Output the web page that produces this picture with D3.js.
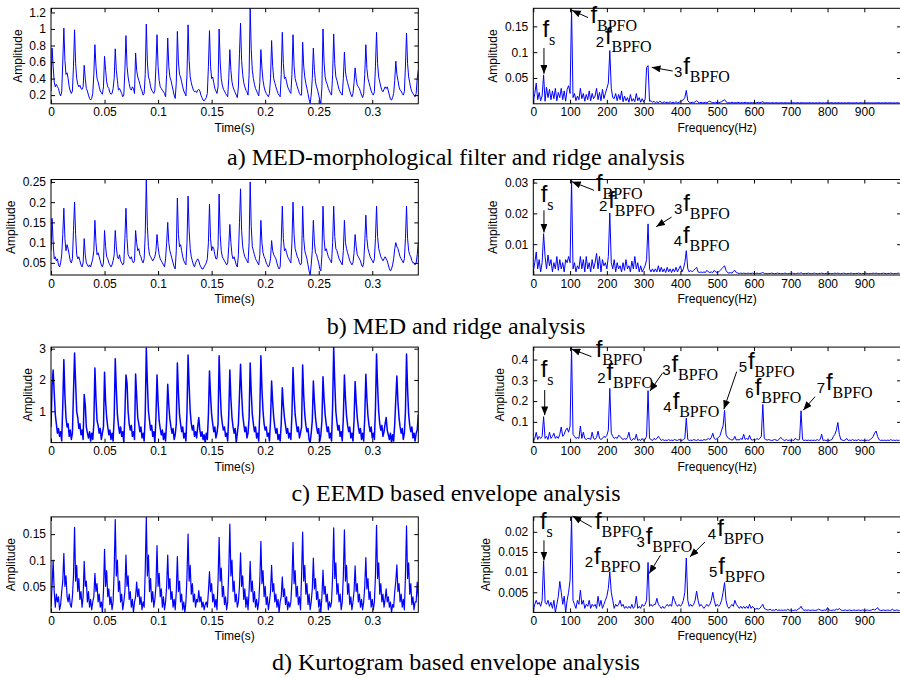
<!DOCTYPE html>
<html><head><meta charset="utf-8">
<script src="https://cdn.jsdelivr.net/npm/d3@7"></script>
<style>body{margin:0;background:#fff}svg{display:block}</style>
</head><body><svg id="c" width="900" height="678"></svg>
<script>
// ---------------- DATA ----------------
const timeStep = 0.001;   // s per sample
const freqStep = 4;       // Hz per sample

const sigA = [0.25,0.77,0.55,0.36,0.30,0.33,0.30,0.28,0.22,0.19,
0.24,0.60,1.01,0.62,0.45,0.47,0.40,0.30,0.25,0.22,
0.25,0.55,0.99,0.58,0.40,0.33,0.30,0.32,0.28,0.27,
0.30,0.56,0.40,0.28,0.25,0.20,0.16,0.14,0.16,0.22,
0.45,0.81,0.55,0.40,0.36,0.30,0.25,0.23,0.21,0.30,
0.67,0.50,0.36,0.30,0.28,0.23,0.21,0.22,0.28,0.40,
0.76,0.50,0.38,0.26,0.28,0.25,0.22,0.18,0.20,0.50,
0.92,0.55,0.42,0.34,0.28,0.26,0.30,0.28,0.22,0.71,
0.50,0.42,0.38,0.33,0.28,0.25,0.20,0.22,0.45,1.06,
0.60,0.42,0.38,0.30,0.26,0.24,0.22,0.26,0.55,0.93,
0.55,0.38,0.30,0.28,0.26,0.24,0.22,0.18,0.45,0.89,
0.55,0.42,0.38,0.32,0.26,0.20,0.16,0.35,0.97,0.60,
0.45,0.42,0.36,0.30,0.25,0.22,0.19,0.45,1.05,0.62,
0.42,0.35,0.30,0.26,0.24,0.25,0.23,0.26,0.27,0.25,
0.20,0.17,0.14,0.13,0.15,0.17,0.22,0.55,0.98,0.55,
0.40,0.42,0.35,0.28,0.25,0.22,0.30,1.00,0.60,0.40,
0.32,0.27,0.25,0.22,0.20,0.18,0.40,0.75,0.50,0.36,
0.30,0.26,0.23,0.20,0.17,0.30,0.70,1.07,0.62,0.45,
0.35,0.30,0.26,0.24,0.20,0.45,1.25,0.75,0.50,0.40,
0.33,0.28,0.25,0.22,0.19,0.35,0.75,0.52,0.38,0.30,
0.25,0.22,0.20,0.18,0.22,0.40,0.86,0.55,0.40,0.35,
0.30,0.26,0.22,0.20,0.18,0.45,0.96,0.58,0.40,0.42,
0.36,0.30,0.27,0.24,0.22,0.45,0.93,0.55,0.40,0.35,
0.30,0.26,0.22,0.20,0.20,0.84,0.55,0.42,0.34,0.28,
0.22,0.15,0.10,0.20,0.40,0.77,0.50,0.36,0.30,0.26,
0.20,0.14,0.10,0.30,1.00,0.60,0.42,0.36,0.33,0.28,
0.25,0.22,0.20,0.45,0.94,0.58,0.42,0.38,0.32,0.27,
0.24,0.22,0.20,0.40,0.72,0.48,0.40,0.35,0.30,0.25,
0.21,0.18,0.22,0.35,0.53,0.40,0.32,0.30,0.28,0.24,
0.20,0.17,0.22,0.45,0.81,0.52,0.40,0.35,0.30,0.25,
0.22,0.20,0.24,0.55,0.96,0.58,0.42,0.36,0.30,0.26,
0.24,0.27,0.30,0.28,0.30,0.25,0.20,0.15,0.14,0.17,
0.22,0.38,0.61,0.45,0.38,0.30,0.26,0.25,0.22,0.20,
0.24,0.55,0.95,0.58,0.42,0.35,0.28,0.24,0.22,0.20,
0.18,0.22,0.40,0.50];

const sigB = [0.08,0.16,0.10,0.06,0.065,0.055,0.06,0.045,0.04,0.05,
0.07,0.12,0.185,0.11,0.08,0.095,0.085,0.07,0.055,0.05,
0.06,0.13,0.20,0.12,0.07,0.06,0.065,0.055,0.045,0.04,
0.05,0.11,0.07,0.05,0.045,0.04,0.045,0.04,0.05,0.06,
0.08,0.155,0.10,0.07,0.075,0.065,0.055,0.045,0.04,0.05,
0.13,0.09,0.065,0.06,0.05,0.045,0.04,0.045,0.055,0.07,
0.13,0.09,0.065,0.06,0.07,0.055,0.05,0.045,0.05,0.11,
0.185,0.11,0.07,0.065,0.06,0.065,0.055,0.05,0.055,0.13,
0.10,0.08,0.085,0.07,0.065,0.055,0.05,0.06,0.12,0.255,
0.14,0.09,0.07,0.065,0.06,0.055,0.06,0.065,0.08,0.12,
0.09,0.07,0.06,0.055,0.05,0.045,0.04,0.06,0.10,0.15,
0.10,0.08,0.07,0.06,0.05,0.04,0.035,0.08,0.21,0.12,
0.09,0.095,0.08,0.065,0.055,0.05,0.045,0.10,0.215,0.13,
0.085,0.065,0.055,0.045,0.04,0.05,0.055,0.06,0.055,0.045,
0.04,0.035,0.035,0.04,0.045,0.05,0.06,0.10,0.195,0.11,
0.08,0.09,0.085,0.07,0.06,0.06,0.09,0.22,0.12,0.08,
0.065,0.06,0.055,0.05,0.045,0.05,0.09,0.145,0.10,0.07,
0.06,0.065,0.055,0.045,0.04,0.07,0.15,0.233,0.13,0.09,
0.075,0.065,0.06,0.055,0.05,0.10,0.25,0.14,0.09,0.08,
0.07,0.06,0.055,0.05,0.045,0.07,0.155,0.10,0.075,0.065,
0.06,0.05,0.045,0.04,0.045,0.06,0.105,0.08,0.07,0.065,
0.06,0.05,0.04,0.035,0.04,0.10,0.19,0.11,0.08,0.085,
0.075,0.065,0.06,0.055,0.05,0.10,0.20,0.12,0.085,0.075,
0.065,0.06,0.05,0.045,0.05,0.19,0.11,0.08,0.07,0.06,
0.045,0.03,0.02,0.045,0.08,0.155,0.10,0.075,0.07,0.06,
0.05,0.035,0.03,0.07,0.19,0.11,0.08,0.085,0.075,0.065,
0.06,0.055,0.05,0.10,0.19,0.115,0.085,0.08,0.07,0.06,
0.055,0.05,0.045,0.08,0.155,0.10,0.085,0.075,0.065,0.055,
0.05,0.045,0.05,0.075,0.12,0.09,0.07,0.065,0.06,0.055,
0.045,0.04,0.05,0.10,0.168,0.11,0.085,0.075,0.065,0.06,
0.055,0.05,0.06,0.11,0.19,0.115,0.085,0.075,0.065,0.06,
0.055,0.06,0.065,0.06,0.055,0.045,0.035,0.03,0.035,0.045,
0.06,0.085,0.10,0.09,0.085,0.075,0.065,0.06,0.055,0.05,
0.06,0.11,0.19,0.11,0.08,0.07,0.065,0.055,0.05,0.05,
0.045,0.05,0.07,0.10];

const sigC = [0.5,1.8,2.32,1.6,0.9,0.6,0.3,0.45,0.2,0.35,
0.05,1.2,2.65,1.5,0.8,0.5,0.6,0.2,0.4,0.1,
0.3,1.6,2.86,1.9,1.0,0.8,0.45,0.6,0.25,0.4,
0.1,1.54,1.2,0.5,0.3,0.15,0.35,0.05,0.3,0.1,
0.6,2.38,1.4,0.7,0.55,0.3,0.45,0.1,0.3,0.5,
2.25,1.3,0.8,0.5,0.25,0.4,0.1,0.3,0.05,0.8,
2.68,1.7,0.9,0.55,0.3,0.5,0.2,0.35,0.0,0.9,
2.16,1.9,1.0,0.6,0.4,0.55,0.2,0.35,0.1,2.19,
1.5,0.8,0.6,0.35,0.5,0.15,0.3,0.05,0.9,3.02,
1.9,1.0,0.7,0.4,0.55,0.2,0.35,0.0,0.8,2.16,
1.3,0.7,0.45,0.25,0.4,0.1,0.3,0.05,0.7,1.86,
1.2,0.75,0.5,0.3,0.45,0.1,0.25,0.6,2.54,1.6,
0.9,0.6,0.35,0.5,0.15,0.3,0.05,1.0,2.8,1.8,
1.0,0.6,0.4,0.55,0.2,0.35,0.15,0.5,0.8,0.4,
0.2,0.35,0.1,0.25,0.0,0.3,0.1,0.9,2.29,1.5,
0.9,0.6,0.35,0.5,0.15,0.3,0.6,2.77,1.7,0.9,
0.6,0.4,0.5,0.2,0.3,0.05,0.9,2.32,1.4,0.8,
0.5,0.3,0.45,0.0,0.3,0.6,1.5,2.5,1.6,0.9,
0.6,0.35,0.5,0.15,0.3,0.8,2.54,1.6,0.9,0.6,
0.35,0.5,0.15,0.3,0.05,1.0,2.77,1.7,1.0,0.6,
0.4,0.5,0.2,0.3,0.05,0.7,1.97,1.3,0.8,0.5,
0.3,0.45,0.1,0.25,0.05,0.6,1.75,1.2,0.8,0.55,
0.3,0.45,0.15,0.3,0.1,0.9,2.4,1.5,0.9,0.6,
0.35,0.5,0.15,0.3,0.5,2.48,1.5,0.9,0.55,0.35,
0.45,0.1,0.0,0.3,0.7,1.97,1.3,0.8,0.5,0.3,
0.45,0.05,0.25,0.7,2.1,1.4,0.9,0.6,0.35,0.5,
0.15,0.3,0.05,1.2,3.05,1.9,1.0,0.65,0.4,0.55,
0.2,0.35,0.05,0.8,2.16,1.4,0.85,0.55,0.35,0.5,
0.15,0.3,0.05,0.7,1.95,1.3,0.8,0.5,0.3,0.45,
0.1,0.3,0.05,0.8,2.18,1.4,0.85,0.55,0.35,0.5,
0.15,0.3,0.1,1.1,2.83,1.8,1.0,0.6,0.4,0.55,
0.2,0.35,0.6,0.8,0.4,0.25,0.1,0.3,0.0,0.25,
0.05,0.6,1.4,2.13,1.3,0.8,0.5,0.3,0.45,0.1,
0.3,1.0,2.83,1.7,0.9,0.55,0.35,0.5,0.15,0.3,
0.05,0.3,0.4,0.9];

const sigD = [0.01,0.05,0.10,0.04,0.01,0.035,0.02,0.03,0.005,0.015,
0.04,0.06,0.113,0.05,0.07,0.03,0.02,0.035,0.015,0.01,
0.03,0.07,0.163,0.06,0.09,0.04,0.065,0.025,0.04,0.01,
0.03,0.098,0.05,0.06,0.02,0.04,0.01,0.025,0.005,0.02,
0.03,0.075,0.04,0.055,0.02,0.035,0.01,0.02,0.0,0.04,
0.121,0.05,0.08,0.03,0.045,0.015,0.03,0.005,0.02,0.08,
0.178,0.07,0.10,0.04,0.06,0.02,0.035,0.005,0.02,0.04,
0.11,0.05,0.07,0.025,0.04,0.01,0.025,0.0,0.02,0.03,
0.058,0.03,0.045,0.015,0.03,0.005,0.02,0.01,0.08,0.183,
0.07,0.11,0.04,0.065,0.02,0.04,0.01,0.025,0.05,0.128,
0.05,0.075,0.03,0.045,0.01,0.03,0.005,0.02,0.05,0.11,
0.045,0.065,0.025,0.04,0.01,0.025,0.005,0.04,0.107,0.04,
0.06,0.02,0.035,0.005,0.02,0.0,0.02,0.07,0.15,0.06,
0.09,0.035,0.055,0.02,0.035,0.01,0.025,0.02,0.042,0.02,
0.03,0.01,0.02,0.005,0.015,0.02,0.01,0.04,0.078,0.04,
0.055,0.02,0.035,0.01,0.025,0.005,0.06,0.144,0.06,0.085,
0.03,0.05,0.015,0.03,0.005,0.02,0.08,0.169,0.07,0.10,
0.04,0.06,0.02,0.035,0.01,0.02,0.05,0.114,0.05,0.07,
0.025,0.045,0.01,0.03,0.005,0.04,0.098,0.04,0.06,0.02,
0.04,0.01,0.025,0.005,0.02,0.06,0.136,0.055,0.08,0.03,
0.05,0.015,0.03,0.005,0.02,0.04,0.09,0.04,0.055,0.02,
0.035,0.01,0.025,0.0,0.02,0.03,0.068,0.03,0.045,0.015,
0.03,0.005,0.02,0.01,0.02,0.06,0.134,0.055,0.08,0.03,
0.05,0.015,0.03,0.005,0.07,0.154,0.06,0.09,0.035,0.055,
0.015,0.035,0.005,0.02,0.045,0.104,0.045,0.065,0.025,0.04,
0.01,0.025,0.0,0.03,0.081,0.035,0.05,0.02,0.035,0.005,
0.02,0.01,0.02,0.07,0.162,0.065,0.095,0.035,0.055,0.02,
0.035,0.005,0.02,0.07,0.158,0.06,0.09,0.035,0.055,0.015,
0.03,0.005,0.02,0.04,0.089,0.04,0.055,0.02,0.035,0.01,
0.025,0.005,0.02,0.05,0.105,0.045,0.065,0.025,0.04,0.01,
0.025,0.005,0.02,0.07,0.167,0.065,0.095,0.035,0.055,0.02,
0.035,0.01,0.025,0.045,0.02,0.03,0.01,0.02,0.0,0.015,
0.01,0.04,0.06,0.091,0.04,0.055,0.02,0.035,0.01,0.025,
0.005,0.07,0.166,0.065,0.095,0.035,0.055,0.015,0.03,0.005,
0.02,0.02,0.058,0.03];

const specA = [0.003,0.02,0.04,0.008,0.022,0.006,0.015,0.056,0.005,0.032,
0.012,0.028,0.008,0.025,0.01,0.03,0.006,0.022,0.012,0.03,
0.008,0.025,0.005,0.028,0.035,0.02,0.185,0.012,0.02,0.006,
0.015,0.008,0.03,0.01,0.02,0.005,0.018,0.008,0.025,0.006,
0.02,0.01,0.015,0.03,0.008,0.022,0.006,0.028,0.01,0.02,
0.03,0.04,0.103,0.03,0.012,0.01,0.02,0.006,0.018,0.008,
0.025,0.004,0.015,0.006,0.012,0.003,0.018,0.005,0.01,0.004,
0.02,0.006,0.012,0.003,0.01,0.004,0.008,0.07,0.074,0.005,
0.006,0.003,0.005,0.002,0.004,0.002,0.005,0.003,0.002,0.004,
0.002,0.003,0.002,0.004,0.002,0.003,0.002,0.004,0.002,0.003,
0.004,0.006,0.008,0.012,0.026,0.006,0.003,0.002,0.003,0.002,
0.004,0.006,0.003,0.002,0.003,0.002,0.002,0.003,0.002,0.004,
0.005,0.003,0.002,0.002,0.003,0.002,0.002,0.003,0.004,0.006,
0.008,0.004,0.002,0.002,0.002,0.003,0.002,0.002,0.002,0.003,
0.002,0.002,0.002,0.002,0.003,0.002,0.002,0.002,0.002,0.002,
0.002,0.002,0.002,0.003,0.002,0.003,0.004,0.002,0.002,0.002,
0.002,0.0015,0.002,0.002,0.0015,0.002,0.002,0.0015,0.002,0.002,
0.0015,0.002,0.002,0.0015,0.002,0.0015,0.002,0.002,0.0015,0.002,
0.002,0.0015,0.002,0.002,0.0015,0.002,0.0015,0.002,0.002,0.0015,
0.002,0.0015,0.002,0.0015,0.002,0.002,0.0015,0.002,0.0015,0.002,
0.002,0.0015,0.002,0.002,0.0015,0.002,0.0015,0.002,0.002,0.0015,
0.002,0.0015,0.002,0.0015,0.002,0.002,0.0015,0.002,0.0015,0.002,
0.002,0.0015,0.002,0.002,0.0015,0.002,0.0015,0.002,0.002,0.0015,
0.002,0.0015,0.002,0.0015,0.002,0.002,0.0015,0.002,0.0015,0.002,
0.002,0.0015,0.002,0.002,0.0015,0.002,0.0015,0.002,0.002,0.0015];

const specB = [0.001,0.004,0.0075,0.002,0.005,0.001,0.004,0.0134,0.006,0.002,
0.0065,0.003,0.005,0.001,0.004,0.002,0.006,0.0015,0.005,0.002,
0.004,0.001,0.005,0.004,0.006,0.004,0.031,0.002,0.004,0.001,
0.003,0.002,0.006,0.002,0.005,0.001,0.006,0.002,0.004,0.001,
0.005,0.002,0.004,0.007,0.002,0.006,0.001,0.005,0.003,0.004,
0.002,0.006,0.0201,0.004,0.002,0.005,0.001,0.004,0.002,0.003,
0.001,0.004,0.0015,0.005,0.002,0.003,0.001,0.0045,0.002,0.006,
0.002,0.004,0.001,0.003,0.001,0.002,0.003,0.005,0.0166,0.002,
0.001,0.002,0.001,0.002,0.001,0.003,0.001,0.0025,0.001,0.002,
0.0008,0.0025,0.001,0.002,0.0008,0.002,0.001,0.0025,0.001,0.002,
0.003,0.001,0.002,0.004,0.0079,0.002,0.001,0.0015,0.001,0.0015,
0.002,0.0025,0.001,0.0008,0.001,0.0008,0.001,0.0008,0.0015,0.001,
0.0008,0.001,0.0008,0.0015,0.001,0.0008,0.001,0.0015,0.002,0.0025,
0.003,0.0015,0.0008,0.0006,0.0008,0.0006,0.0012,0.0015,0.0008,0.0006,
0.0005,0.0006,0.0005,0.0006,0.0005,0.0005,0.0006,0.0005,0.0005,0.0006,
0.0005,0.0005,0.0006,0.0005,0.0005,0.0006,0.0008,0.0005,0.0005,0.0004,
0.0005,0.0005,0.0006,0.0005,0.0004,0.0005,0.0006,0.0005,0.0005,0.0004,
0.0005,0.0006,0.0005,0.0004,0.0005,0.0005,0.0006,0.0005,0.0004,0.0005,
0.0006,0.0005,0.0007,0.0005,0.0004,0.0005,0.0005,0.0006,0.0005,0.0004,
0.0005,0.0006,0.0005,0.0004,0.0005,0.0005,0.0006,0.0005,0.0004,0.0005,
0.0006,0.0005,0.0005,0.0004,0.0005,0.0006,0.0005,0.0006,0.0005,0.0004,
0.0005,0.0006,0.0005,0.0004,0.0005,0.0005,0.0006,0.0005,0.0004,0.0005,
0.0005,0.0006,0.0005,0.0004,0.0005,0.0005,0.0006,0.0005,0.0004,0.0005,
0.0005,0.0006,0.0005,0.0006,0.0005,0.0004,0.0005,0.0005,0.0006,0.0005,
0.0004,0.0005,0.0005,0.0006,0.0005,0.0004,0.0005,0.0005,0.0006,0.0005];

const specC = [0.01,0.02,0.05,0.015,0.03,0.02,0.03,0.125,0.02,0.03,
0.015,0.05,0.02,0.03,0.045,0.02,0.03,0.02,0.04,0.075,
0.03,0.04,0.06,0.07,0.05,0.08,0.46,0.04,0.03,0.02,
0.025,0.02,0.08,0.02,0.05,0.02,0.015,0.02,0.02,0.015,
0.05,0.02,0.015,0.025,0.055,0.02,0.015,0.02,0.03,0.025,
0.035,0.06,0.261,0.045,0.03,0.02,0.025,0.02,0.035,0.03,
0.02,0.015,0.02,0.015,0.025,0.05,0.015,0.01,0.02,0.015,
0.04,0.01,0.015,0.01,0.02,0.01,0.015,0.03,0.25,0.02,
0.015,0.01,0.02,0.015,0.02,0.03,0.02,0.01,0.015,0.01,
0.012,0.01,0.015,0.01,0.012,0.01,0.015,0.012,0.01,0.015,
0.012,0.01,0.015,0.02,0.118,0.015,0.01,0.012,0.01,0.015,
0.012,0.01,0.015,0.01,0.012,0.01,0.015,0.012,0.015,0.02,
0.015,0.025,0.045,0.02,0.015,0.02,0.025,0.035,0.06,0.08,
0.155,0.04,0.025,0.02,0.015,0.012,0.015,0.03,0.012,0.015,
0.012,0.02,0.015,0.04,0.015,0.02,0.015,0.035,0.015,0.012,
0.015,0.012,0.02,0.015,0.02,0.03,0.184,0.02,0.015,0.012,
0.015,0.012,0.01,0.012,0.015,0.012,0.01,0.015,0.025,0.02,
0.012,0.01,0.015,0.01,0.012,0.01,0.012,0.01,0.02,0.015,
0.012,0.015,0.153,0.015,0.01,0.012,0.01,0.012,0.01,0.012,
0.01,0.012,0.01,0.015,0.01,0.015,0.04,0.01,0.012,0.01,
0.012,0.01,0.012,0.015,0.03,0.04,0.06,0.097,0.04,0.015,
0.012,0.01,0.012,0.02,0.01,0.012,0.01,0.015,0.01,0.012,
0.01,0.015,0.01,0.012,0.01,0.012,0.01,0.012,0.01,0.015,
0.02,0.03,0.045,0.056,0.03,0.015,0.01,0.012,0.01,0.012,
0.01,0.012,0.01,0.015,0.01,0.012,0.01,0.012,0.01,0.012];

const specD = [0.0005,0.002,0.003,0.002,0.0025,0.0015,0.003,0.0128,0.0025,0.002,
0.003,0.0015,0.0025,0.001,0.003,0.0,0.002,0.004,0.0077,0.005,
0.002,0.004,0.0,0.003,0.005,0.008,0.0237,0.003,0.002,0.001,
0.003,0.002,0.0055,0.002,0.003,0.001,0.002,0.0015,0.003,0.001,
0.002,0.0015,0.002,0.001,0.004,0.0015,0.003,0.001,0.002,0.003,
0.004,0.006,0.0101,0.005,0.003,0.001,0.002,0.0015,0.002,0.003,
0.0015,0.002,0.001,0.0015,0.001,0.0015,0.001,0.002,0.001,0.0015,
0.004,0.001,0.0015,0.001,0.002,0.0015,0.002,0.003,0.0124,0.0015,
0.002,0.0015,0.002,0.002,0.0035,0.002,0.0015,0.001,0.0015,0.001,
0.0015,0.002,0.0015,0.002,0.0015,0.004,0.003,0.002,0.0015,0.002,
0.0015,0.002,0.003,0.005,0.0135,0.003,0.0015,0.002,0.0015,0.002,
0.003,0.0053,0.003,0.0015,0.002,0.0015,0.001,0.0015,0.002,0.0015,
0.002,0.003,0.005,0.003,0.0015,0.002,0.0015,0.002,0.003,0.005,
0.0074,0.003,0.0015,0.001,0.0015,0.002,0.0015,0.003,0.002,0.0015,
0.001,0.0015,0.001,0.0015,0.001,0.0015,0.001,0.002,0.001,0.0015,
0.001,0.0008,0.001,0.0008,0.001,0.0015,0.002,0.001,0.0008,0.0006,
0.0006,0.0008,0.0005,0.0006,0.0005,0.0008,0.0005,0.0006,0.0005,0.0006,
0.0005,0.0006,0.0005,0.0008,0.0005,0.0006,0.0005,0.0005,0.0006,0.0005,
0.0008,0.001,0.0015,0.0008,0.0005,0.0006,0.0005,0.0006,0.0005,0.0005,
0.0006,0.0005,0.0005,0.0006,0.0008,0.0006,0.0005,0.0005,0.0006,0.0005,
0.0012,0.0006,0.0005,0.0005,0.0006,0.0005,0.0008,0.0006,0.001,0.0006,
0.0005,0.0005,0.0006,0.0005,0.0005,0.0006,0.0005,0.0005,0.0006,0.0005,
0.0005,0.0006,0.0005,0.0005,0.0006,0.0005,0.0005,0.0006,0.0005,0.0005,
0.0006,0.0008,0.0006,0.0008,0.0012,0.0006,0.0005,0.0005,0.0006,0.0005,
0.0005,0.0006,0.0005,0.0005,0.0008,0.0005,0.0005,0.0006,0.0005,0.0005];

const timeDomain = [0, 0.343];
const freqDomain = [0, 1000];
const timeTicks = [0, 0.05, 0.1, 0.15, 0.2, 0.25, 0.3];
const freqTickLabels = [0, 100, 200, 300, 400, 500, 600, 700, 800, 900];
const freqTickMarks = [0, 100, 200, 300, 400, 500, 600, 700, 800, 900, 1000];

const sigDomains = [[0.095, 1.25], [0.02, 0.256], [0, 3.05], [0, 0.183]];
const sigTicks = [[0.2, 0.4, 0.6, 0.8, 1, 1.2], [0.05, 0.1, 0.15, 0.2, 0.25], [1, 2, 3], [0.05, 0.1, 0.15]];
const specDomains = [[0, 0.185], [0, 0.031], [0, 0.46], [0, 0.0237]];
const specTicks = [[0.05, 0.1, 0.15], [0.01, 0.02, 0.03], [0.1, 0.2, 0.3, 0.4], [0.005, 0.01, 0.015, 0.02]];

const captions = ["a) MED-morphological filter and ridge analysis",
                  "b) MED and ridge analysis",
                  "c) EEMD based envelope analysis",
                  "d) Kurtogram based envelope analysis"];

// annotation: prefix number, f position (Hz), f baseline (amplitude), subscript, optional arrow [tail, tip]
const annA = [
  {n: "", f: 25, v: 0.129, sub: "s", arrow: [[29, 0.108], [29, 0.058]]},
  {n: "", f: 155.5, v: 0.157, sub: "BPFO", arrow: [[149, 0.167], [105, 0.181]]},
  {n: "2", f: 195, v: 0.116, sub: "BPFO"},
  {n: "3", f: 408, v: 0.058, sub: "BPFO", arrow: [[379, 0.0635], [322, 0.0706]]}
];
const annB = [
  {n: "", f: 20, v: 0.0238, sub: "s", arrow: [[29, 0.021], [29, 0.0138]]},
  {n: "", f: 170.5, v: 0.0274, sub: "BPFO", arrow: [[165, 0.0275], [105, 0.0303]]},
  {n: "2", f: 204, v: 0.0219, sub: "BPFO"},
  {n: "3", f: 408, v: 0.0209, sub: "BPFO", arrow: [[376, 0.0188], [334, 0.0157]]},
  {n: "4", f: 407, v: 0.0105, sub: "BPFO"}
];
const annC = [
  {n: "", f: 20, v: 0.316, sub: "s", arrow: [[31, 0.253], [31, 0.132]]},
  {n: "", f: 170, v: 0.413, sub: "BPFO", arrow: [[158, 0.414], [104, 0.451]]},
  {n: "2", f: 199, v: 0.30, sub: "BPFO"},
  {n: "3", f: 376, v: 0.34, sub: "BPFO", arrow: [[351, 0.334], [317, 0.248]]},
  {n: "4", f: 379, v: 0.1625, sub: "BPFO"},
  {n: "5", f: 584, v: 0.356, sub: "BPFO", arrow: [[553, 0.342], [518, 0.161]]},
  {n: "6", f: 602, v: 0.227, sub: "BPFO"},
  {n: "7", f: 796, v: 0.2516, sub: "BPFO", arrow: [[766, 0.221], [734, 0.156]]}
];
const annD = [
  {n: "", f: 18, v: 0.0207, sub: "s", arrow: [[29, 0.0179], [29, 0.0129]]},
  {n: "", f: 168, v: 0.0207, sub: "BPFO", arrow: [[159, 0.0212], [107, 0.0239]]},
  {n: "2", f: 165, v: 0.012, sub: "BPFO"},
  {n: "3", f: 306, v: 0.017, sub: "BPFO", arrow: [[346, 0.0142], [315, 0.00965]]},
  {n: "4", f: 500, v: 0.019, sub: "BPFO", arrow: [[467, 0.0175], [426, 0.0138]]},
  {n: "5", f: 503, v: 0.0096, sub: "BPFO"}
];

const signals = [sigA, sigB, sigC, sigD];
const spectra = [specA, specB, specC, specD];
const annotations = [annA, annB, annC, annD];

// ---------------- LAYOUT ----------------
const SANS = "Arial, 'Liberation Sans', Helvetica, sans-serif";
const SERIF = "'Liberation Serif', 'Times New Roman', Times, serif";
const colX = [51, 533.3];
const colW = [367.3, 367.8];
const rowTop = [8.3, 179.5, 347.1, 516.9];
const plotH = 95.5;
const captionY = [165, 334, 501, 670];
const lineColor = "#0000ff";
const strokeW = [1, 1, 1.5, 1.2];

const svg = d3.select("#c");
const defs = svg.append("defs");
defs.append("marker").attr("id", "arr")
  .attr("viewBox", "0 0 10 8").attr("refX", 10).attr("refY", 4)
  .attr("markerWidth", 9).attr("markerHeight", 7)
  .attr("markerUnits", "userSpaceOnUse").attr("orient", "auto")
  .append("path").attr("d", "M0,0L10,4L0,8Z").attr("fill", "#000");

let clipN = 0;
function drawPanel(opts) {
  const x0 = opts.x0, w = opts.w, top = opts.top, h = plotH;
  const x = d3.scaleLinear().domain(opts.xDomain).range([x0, x0 + w]);
  const y = d3.scaleLinear().domain(opts.yDomain).range([top + h, top]);
  const g = svg.append("g");
  const id = "clip" + (clipN++);
  defs.append("clipPath").attr("id", id).append("rect")
    .attr("x", x0).attr("y", top).attr("width", w).attr("height", h);

  const line = d3.line().x((d, i) => x(i * opts.step)).y(d => y(d));
  g.append("path").datum(opts.data).attr("clip-path", `url(#${id})`)
    .attr("d", line).attr("fill", "none").attr("stroke", lineColor)
    .attr("stroke-width", opts.sw || 1).attr("stroke-linejoin", "round");

  const styleAxis = (sel) => {
    sel.select(".domain").remove();
    sel.selectAll("line").attr("stroke", "#000").attr("stroke-width", 1);
    sel.selectAll("text").attr("fill", "#000").style("font-family", SANS).style("font-size", "12px");
  };
  g.append("g").attr("transform", `translate(0,${top + h})`)
    .call(d3.axisBottom(x).tickValues(opts.xMarks).tickSize(-4).tickPadding(4)
      .tickFormat(d => opts.xLabels.includes(d) ? String(d) : ""))
    .call(styleAxis);
  g.append("g").attr("transform", `translate(0,${top})`)
    .call(d3.axisTop(x).tickValues(opts.xMarks).tickSize(-4).tickFormat(""))
    .call(styleAxis);
  const gl = g.append("g").attr("transform", `translate(${x0},0)`)
    .call(d3.axisLeft(y).tickValues(opts.yTicks).tickSize(-4).tickPadding(5).tickFormat(d => String(d)))
    .call(styleAxis);
  g.append("g").attr("transform", `translate(${x0 + w},0)`)
    .call(d3.axisRight(y).tickValues(opts.yTicks).tickSize(-4).tickFormat(""))
    .call(styleAxis);
  g.append("rect").attr("x", x0).attr("y", top).attr("width", w).attr("height", h)
    .attr("fill", "none").attr("stroke", "#000").attr("stroke-width", 1);

  g.append("text").attr("x", x0 + w / 2).attr("y", top + h + 28)
    .attr("text-anchor", "middle").style("font-family", SANS).style("font-size", "12px")
    .text(opts.xTitle);
  let minL = Infinity;
  gl.selectAll("text").each(function () { const b = this.getBBox(); minL = Math.min(minL, x0 + b.x); });
  const ly = top + h / 2;
  const lx = minL - 12;
  g.append("text").attr("transform", `translate(${lx},${ly}) rotate(-90)`)
    .attr("text-anchor", "middle").attr("dy", "0.35em")
    .style("font-family", SANS).style("font-size", "12px").text("Amplitude");

  if (opts.ann) {
    opts.ann.forEach(a => {
      const fx = x(a.f), fy = y(a.v);
      if (a.n) g.append("text").attr("x", fx - 1).attr("y", fy + 3).attr("text-anchor", "end")
        .style("font-family", SANS).style("font-size", "15px").text(a.n);
      g.append("text").attr("x", fx).attr("y", fy)
        .style("font-family", SANS).style("font-size", "24px").text("f");
      g.append("text").attr("x", fx + 6.5).attr("y", fy + 8)
        .style("font-family", SERIF).style("font-size", "16px").text(a.sub);
      if (a.arrow) {
        g.append("line")
          .attr("x1", x(a.arrow[0][0])).attr("y1", y(a.arrow[0][1]))
          .attr("x2", x(a.arrow[1][0])).attr("y2", y(a.arrow[1][1]))
          .attr("stroke", "#000").attr("stroke-width", 1)
          .attr("marker-end", "url(#arr)");
      }
    });
  }
}

for (let r = 0; r < 4; r++) {
  drawPanel({x0: colX[0], w: colW[0], top: rowTop[r], xDomain: timeDomain, yDomain: sigDomains[r],
    data: signals[r], step: timeStep, xMarks: timeTicks, xLabels: timeTicks, yTicks: sigTicks[r],
    xTitle: "Time(s)", sw: strokeW[r]});
  drawPanel({x0: colX[1], w: colW[1], top: rowTop[r], xDomain: freqDomain, yDomain: specDomains[r],
    data: spectra[r], step: freqStep, xMarks: freqTickMarks, xLabels: freqTickLabels, yTicks: specTicks[r],
    xTitle: "Frequency(Hz)", ann: annotations[r]});
  svg.append("text").attr("x", 456).attr("y", captionY[r]).attr("text-anchor", "middle")
    .style("font-family", SERIF).style("font-size", "24px").attr("fill", "#000").text(captions[r]);
}
</script></body></html>
